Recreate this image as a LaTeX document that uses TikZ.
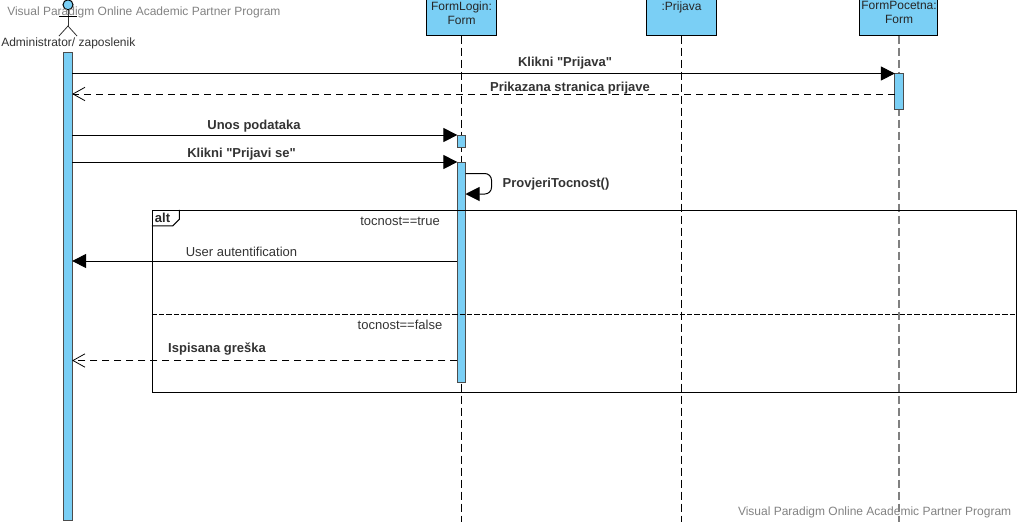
\documentclass[tikz,border=0pt]{standalone}
\usepackage{xcolor}
\usepackage{fontspec}
\newfontfamily\umlfont{Liberation Sans}
\definecolor{umlblue}{RGB}{122, 207, 245}
\definecolor{marktext}{RGB}{130, 130, 130}
\usetikzlibrary{arrows.meta, positioning, calc}

\begin{document}
\begin{tikzpicture}[
    x=0.75pt, y=-0.75pt,
    object/.style={rectangle, draw=black, fill=umlblue, line width=0.75pt, minimum height=26.5pt, inner sep=0pt, anchor=north west},
    objecttext/.style={align=center, anchor=north, inner sep=0pt, text=black!85, font=\umlfont\fontsize{9}{10.5}\selectfont},
    bar/.style={rectangle, draw=black!70, fill=umlblue, line width=0.75pt, minimum width=6.2pt, inner sep=0pt, outer sep=0pt, anchor=north},
    lifeline/.style={black, line width=0.6pt, dash pattern=on 6pt off 3pt},
    actortext/.style={font=\umlfont\fontsize{9}{11}\selectfont, text=black!80},
    label/.style={font=\umlfont\fontsize{9.75}{11}\selectfont, text=black!80},
    boldlabel/.style={font=\umlfont\fontsize{9.75}{11}\selectfont\bfseries, text=black!80},
    watermark/.style={font=\umlfont\fontsize{9}{11}\selectfont, text=marktext},
    call/.style={-{Triangle[length=10.5pt, width=10.5pt]}, black, line width=0.75pt},
    reply/.style={-{Straight Barb[length=9pt, width=10pt, line width=0.6pt]}, black, line width=0.75pt, dash pattern=on 5.5pt off 3.5pt},
    frameline/.style={black, line width=0.75pt}
]
    \useasboundingbox (0.7, 0.7) rectangle (1017.7, 522.7);

    % Objects
    \node[object, minimum width=53pt] (login) at (426.5, 0) {};
    \node[object, minimum width=53pt] (prijava) at (646.5, 0) {};
    \node[object, minimum width=59pt] (pocetna) at (859.5, 0) {};
    \node[objecttext] (logintext) at (462.2, 2) {FormLogin:\\Form};
    \node[objecttext] (prijavatext) at (682.2, 2) {:Prijava};
    \node[objecttext] (pocetnatext) at (899.7, 2) {FormPocetna:\\Form};

    % Lifelines
    \coordinate (loginend) at (462.2, 523);
    \coordinate (prijavaend) at (682.2, 523);
    \coordinate (pocetnaend) at (899.7, 523);
    \draw[lifeline] (login.south -| loginend) -- (loginend);
    \draw[lifeline] (prijava.south -| prijavaend) -- (prijavaend);
    \draw[lifeline, gray, line width=0.9pt] (pocetna.south -| pocetnaend) -- (pocetnaend);

    % Actor
    \node[circle, draw=black, fill=umlblue, line width=0.75pt, minimum size=7.5pt, inner sep=0pt] (head) at (68.7, 5.5) {};
    \coordinate (hip) at (68.7, 26.7);
    \coordinate (armleft) at (59.7, 16.7);
    \coordinate (armright) at (77.7, 16.7);
    \coordinate (legleft) at (59.7, 36.7);
    \coordinate (legright) at (77.7, 36.7);
    \draw[black!80, line width=0.6pt] (head) -- (hip);
    \draw[black, line width=0.6pt] (armleft) -- (armright);
    \draw[black!80, line width=0.6pt] (legleft) -- (hip) -- (legright);
    \node[actortext] (admin) at (69, 44) {Administrator/ zaposlenik};

    % Activation bars
    \node[bar, minimum height=351pt] (adminbar) at (68.7, 53) {};
    \node[bar, minimum height=27pt] (pocetnabar) at (899.7, 74.2) {};
    \node[bar, minimum height=9pt] (unosbar) at (462.2, 135.7) {};
    \node[bar, minimum height=165pt] (loginbar) at (462.2, 162.7) {};

    % Watermarks
    \node[watermark, anchor=west, inner sep=0pt] (markone) at (7.7, 13) {Visual Paradigm Online Academic Partner Program};
    \node[watermark, anchor=east, inner sep=0pt] (marktwo) at (1012.2, 513) {Visual Paradigm Online Academic Partner Program};

    % Message levels
    \coordinate (replyone) at (0, 94.7);
    \coordinate (autolevel) at (0, 261.7);
    \coordinate (errorlevel) at (0, 361.2);

    % Messages
    \draw[call] (adminbar.east |- pocetnabar.north) -- (pocetnabar.north west);
    \draw[reply] (pocetnabar.west |- replyone) -- (adminbar.east |- replyone);
    \draw[call] (adminbar.east |- unosbar.north) -- (unosbar.north west);
    \draw[call] (adminbar.east |- loginbar.north) -- (loginbar.north west);
    \node[boldlabel] (lblprijava) at (565.7, 63.7) {Klikni "Prijava"};
    \node[boldlabel] (lblstranica) at (570.7, 88.7) {Prikazana stranica prijave};
    \node[boldlabel] (lblunos) at (254.7, 126.7) {Unos podataka};
    \node[boldlabel] (lblprijavise) at (242.2, 154.7) {Klikni "Prijavi se"};

    % Self call
    \coordinate (selfout) at (466.2, 174.2);
    \coordinate (selfin) at (466.2, 194.7);
    \draw[call, rounded corners=5pt] (selfout) -- (492.2, 174.2) -- (492.2, 194.7) -- (selfin);
    \node[boldlabel] (lblself) at (556.7, 185.2) {ProvjeriTocnost()};

    % Alt frame
    \node[rectangle, draw=black, line width=0.75pt, minimum width=648pt, minimum height=136.5pt, inner sep=0pt, anchor=north west] (altframe) at (152.5, 210.5) {};
    \coordinate (tabbottom) at (173.5, 226.5);
    \coordinate (tabright) at (180, 220);
    \draw[frameline] (altframe.north -| tabright) -- (tabright) -- (tabbottom) -- (altframe.west |- tabbottom);
    \node[font=\umlfont\fontsize{9.75}{11}\selectfont\bfseries, text=black!85] (alttext) at (163.2, 219) {alt};
    \coordinate (splitleft) at (152.5, 315.2);
    \draw[frameline, dash pattern=on 4pt off 1.5pt, line width=0.6pt] (splitleft) -- (splitleft -| altframe.east);
    \node[label] (guardtrue) at (400.7, 221.7) {tocnost==true};
    \node[label] (guardfalse) at (400.7, 325.7) {tocnost==false};

    % Alt messages
    \draw[call] (loginbar.west |- autolevel) -- (adminbar.east |- autolevel);
    \node[label] (lblauto) at (242.2, 252.7) {User autentification};
    \draw[reply] (loginbar.west |- errorlevel) -- (adminbar.east |- errorlevel);
    \node[boldlabel] (lblgreska) at (217.7, 349.7) {Ispisana greška};

\end{tikzpicture}
\end{document}
